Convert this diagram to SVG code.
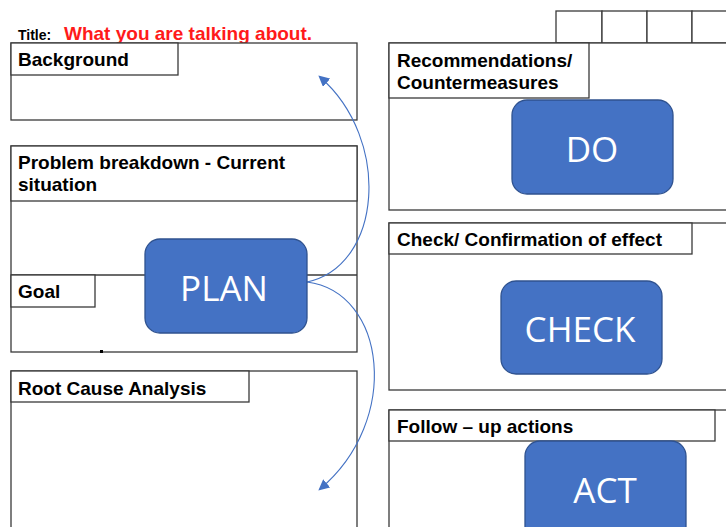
<svg xmlns="http://www.w3.org/2000/svg" width="726" height="527" viewBox="0 0 726 527">
  <style>
    .frame { fill: #ffffff; stroke: #3a3a3a; stroke-width: 1.3; }
    .head { fill: #ffffff; stroke: #3a3a3a; stroke-width: 1.3; }
    .label { font-family: "Liberation Sans", Arial, sans-serif; font-weight: bold; font-size: 19px; fill: #000000; }
    .phase rect { fill: #4472C4; stroke: #2F528F; stroke-width: 1.3; }
    .phase text { font-family: "Open Sans", "Liberation Sans", sans-serif; font-size: 35px; fill: #ffffff; text-anchor: middle; }
    .link { fill: none; stroke: #4472C4; stroke-width: 1.1; marker-end: url(#arrow); }
  </style>
  <defs>
    <marker id="arrow" viewBox="0 0 10 10" refX="8" refY="5" markerWidth="11" markerHeight="11" markerUnits="userSpaceOnUse" orient="auto">
      <path d="M0,0 L10,5 L0,10 z" fill="#4472C4"/>
    </marker>
  </defs>
  <rect width="726" height="527" fill="#ffffff"/>

  <!-- title line -->
  <g id="title">
    <text x="18" y="40" font-family="Liberation Sans, Arial, sans-serif" font-weight="bold" font-size="14" fill="#000">Title:</text>
    <text x="64" y="40" font-family="Liberation Sans, Arial, sans-serif" font-weight="bold" font-size="19" fill="#ff1a1a">What you are talking about.</text>
  </g>

  <!-- approval cells at top right -->
  <g id="signoff">
    <rect class="frame" x="556" y="11" width="46" height="32"/>
    <rect class="frame" x="602" y="11" width="45" height="32"/>
    <rect class="frame" x="647" y="11" width="45" height="32"/>
    <rect class="frame" x="692" y="11" width="45" height="32"/>
  </g>

  <g id="background">
    <rect class="frame" x="11" y="43" width="346" height="77"/>
    <rect class="head" x="11" y="43" width="167" height="32"/>
    <text class="label" x="18" y="66">Background</text>
  </g>

  <g id="problem">
    <rect class="frame" x="11" y="146" width="346" height="206"/>
    <rect class="head" x="11" y="146" width="346" height="55"/>
    <text class="label" x="18" y="169">Problem breakdown - Current</text>
    <text class="label" x="18" y="191">situation</text>
    <line x1="11" y1="275" x2="357" y2="275" stroke="#3a3a3a" stroke-width="1.3"/>
    <rect class="head" x="11" y="275" width="84" height="32"/>
    <text class="label" x="18" y="298">Goal</text>
    <rect x="100" y="350" width="3" height="3" fill="#000"/>
  </g>

  <g id="rootcause">
    <rect class="frame" x="11" y="371" width="346" height="170"/>
    <rect class="head" x="11" y="371" width="238" height="31"/>
    <text class="label" x="18" y="395">Root Cause Analysis</text>
  </g>

  <g id="recommendations">
    <rect class="frame" x="389" y="43" width="350" height="167"/>
    <rect class="head" x="389" y="43" width="200" height="55"/>
    <text class="label" x="397" y="67">Recommendations/</text>
    <text class="label" x="397" y="89">Countermeasures</text>
  </g>

  <g id="check-box">
    <rect class="frame" x="389" y="223" width="350" height="167"/>
    <rect class="head" x="389" y="223" width="303" height="31"/>
    <text class="label" x="397" y="246">Check/ Confirmation of effect</text>
  </g>

  <g id="followup">
    <rect class="frame" x="389" y="410" width="350" height="130"/>
    <rect class="head" x="389" y="410" width="326" height="31"/>
    <text class="label" x="397" y="433">Follow – up actions</text>
  </g>

  <!-- connectors -->
  <g id="connectors">
    <path class="link" d="M307,282 C382,266 392,140 320,77"/>
    <path class="link" d="M307,282 C386,292 402,420 320,489"/>
  </g>

  <g id="plan" class="phase">
    <rect x="145" y="239" width="162" height="94" rx="15"/>
    <text x="224" y="301">PLAN</text>
  </g>

  <g id="do" class="phase">
    <rect x="512" y="100" width="161" height="94" rx="15"/>
    <text x="592" y="162">DO</text>
  </g>

  <g id="check" class="phase">
    <rect x="501" y="281" width="161" height="93" rx="15"/>
    <text x="580" y="342">CHECK</text>
  </g>

  <g id="act" class="phase">
    <rect x="525" y="441" width="161" height="100" rx="15"/>
    <text x="605" y="503">ACT</text>
  </g>
</svg>
